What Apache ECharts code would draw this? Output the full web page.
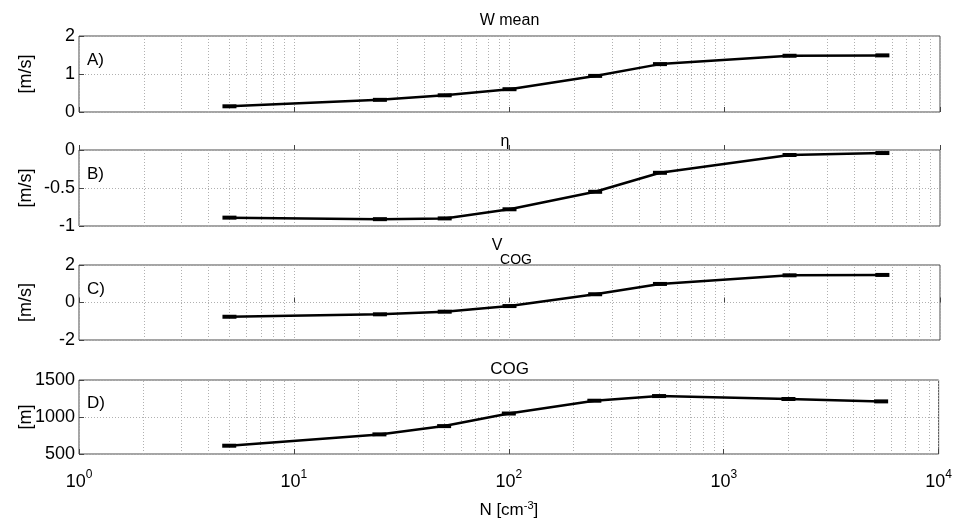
<!DOCTYPE html>
<html><head><meta charset="utf-8">
<script src="https://cdn.jsdelivr.net/npm/echarts@6/dist/echarts.min.js"></script>
<style>html,body{margin:0;padding:0;background:#fff}#c{width:955px;height:520px}</style>
</head><body><div id="c"></div>
<script>
// ---- data ----
const nValues = [5, 25, 50, 100, 250, 500, 2000, 5400];
const wMean  = [0.15, 0.32, 0.44, 0.60, 0.95, 1.26, 1.48, 1.49];
const eta    = [-0.89, -0.91, -0.90, -0.78, -0.55, -0.30, -0.066, -0.04];
const vCog   = [-0.76, -0.63, -0.49, -0.19, 0.44, 0.99, 1.45, 1.47];
const cog    = [612, 765, 877, 1047, 1220, 1283, 1243, 1211];
const minorX = [2,3,4,5,6,7,8,9,20,30,40,50,60,70,80,90,200,300,400,500,600,700,800,900,2000,3000,4000,5000,6000,7000,8000,9000];
const panelSeries = [wMean, eta, vCog, cog];
const yMin = [0, -1, -2, 500];
const yMax = [2, 0, 2, 1500];
const yInt = [1, 0.5, 2, 500];
const yNames = ['[m/s]', '[m/s]', '[m/s]', '[m]'];
const panelTags = ['A)', 'B)', 'C)', 'D)'];

// ---- layout ----
const FONT = 'Liberation Sans, Arial, sans-serif';
const L = 79, R = 15;
const tops = [36, 150, 265, 380];
const heights = [76, 76, 75, 75];

const grids = [], xAxes = [], yAxes = [], series = [];
for (let i = 0; i < 4; i++) {
  grids.push({left: L, right: R, top: tops[i], height: heights[i], show: true,
    borderColor: '#4a4a4a', borderWidth: 1, backgroundColor: 'transparent', containLabel: false});
  xAxes.push({
    type: 'log', logBase: 10, min: 1, max: 10000, gridIndex: i,
    axisLine: {show: false},
    axisTick: {show: true, inside: true, length: 5, lineStyle: {color: '#444'}},
    splitLine: {show: true, lineStyle: {color: '#b0b0b0', type: [1, 2], width: 1}},
    axisLabel: i === 3 ? {
      show: true, margin: 15, color: '#000', fontFamily: FONT,
      formatter: v => '{b|10}{s|' + Math.round(Math.log10(v)) + '}',
      rich: {b: {fontSize: 18, fontFamily: FONT, color: '#000', verticalAlign: 'bottom'},
             s: {fontSize: 12, fontFamily: FONT, color: '#000', verticalAlign: 'bottom', padding: [0, 0, 10, 0]}}
    } : {show: false},
    name: i === 3 ? '{b|N [cm}{s|-3}{b|]}' : '',
    nameLocation: 'middle', nameGap: 46, nameMoveOverlap: false,
    nameTextStyle: {rich: {b: {fontSize: 17, fontFamily: FONT, color: '#000', verticalAlign: 'bottom'},
                           s: {fontSize: 11, fontFamily: FONT, color: '#000', verticalAlign: 'bottom', padding: [0, 0, 8, 0]}}}
  });
  yAxes.push({
    type: 'value', gridIndex: i, min: yMin[i], max: yMax[i], interval: yInt[i],
    axisLine: {show: false},
    axisTick: {show: true, inside: true, length: 5, lineStyle: {color: '#444'}},
    splitLine: {show: true, lineStyle: {color: '#b0b0b0', type: [1, 2], width: 1}},
    axisLabel: {fontSize: 18, color: '#000', fontFamily: FONT, margin: 4,
                formatter: v => String(v)},
    name: yNames[i], nameLocation: 'middle', nameRotate: 90, nameGap: 44, nameMoveOverlap: false,
    nameTextStyle: {fontSize: 18, color: '#000', fontFamily: FONT}
  });
  series.push({
    type: 'line', xAxisIndex: i, yAxisIndex: i,
    data: nValues.map((n, k) => [n, panelSeries[i][k]]),
    lineStyle: {color: '#000', width: 2.5},
    symbol: 'rect', symbolSize: [14, 4], showSymbol: true,
    itemStyle: {color: '#000'},
    z: 5,
    markLine: {
      silent: true, symbol: 'none', animation: false,
      label: {show: false},
      lineStyle: {color: '#b0b0b0', type: [1, 2], width: 1},
      data: minorX.map(v => ({xAxis: v})),
      z: 1
    }
  });
}

const textStyle = (t, x, y, size, align) => ({
  type: 'text', x: x, y: y,
  style: {text: t, font: size + 'px ' + FONT, fill: '#000', textAlign: align || 'center', textVerticalAlign: 'middle'}
});

const graphics = [
  textStyle('W mean', 509.5, 21, 16),
  textStyle('η', 505, 142, 16),
  textStyle('V', 497, 246, 16),
  textStyle('COG', 516, 260, 14),
  textStyle('COG', 509.5, 369, 17),
];
const tagY = [60, 174, 289, 403];
for (let i = 0; i < 4; i++) graphics.push(textStyle(panelTags[i], 87, tagY[i], 17, 'left'));

const chart = echarts.init(document.getElementById('c'));
chart.setOption({
  animation: false,
  backgroundColor: '#fff',
  grid: grids, xAxis: xAxes, yAxis: yAxes, series: series,
  graphic: graphics
});
</script></body></html>
